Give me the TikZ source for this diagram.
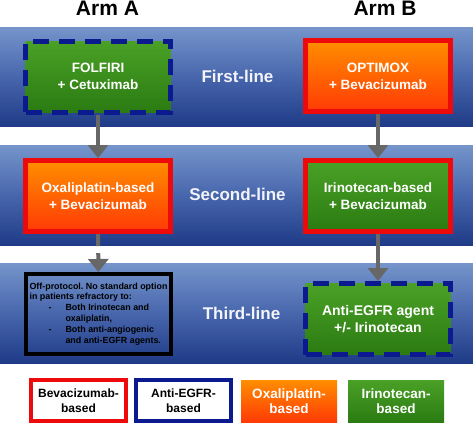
\documentclass[tikz,border=0pt]{standalone}
\usepackage{fontspec}
\setmainfont{Liberation Sans}
\usetikzlibrary{arrows.meta}
\frenchspacing
\definecolor{bandtop}{HTML}{7595CB}
\definecolor{bandmid}{HTML}{4866AC}
\definecolor{bandbot}{HTML}{1F3B88}
\definecolor{bevred}{HTML}{EE0A0A}
\definecolor{egfrblue}{HTML}{0B1A8E}
\definecolor{oxtop}{HTML}{FF8E00}
\definecolor{oxbot}{HTML}{FF3A05}
\definecolor{irtop}{HTML}{4AA126}
\definecolor{irbot}{HTML}{2B7B12}
\definecolor{arrowgray}{HTML}{676767}
\definecolor{labelwhite}{HTML}{F2F4FA}
\tikzset{
  band/.style={top color=bandtop, bottom color=bandbot, middle color=bandmid},
  box/.style={minimum width=145pt, minimum height=71pt, line width=5pt, inner sep=0pt,
    font=\bfseries\fontsize{13.5}{17}\selectfont, text=white, align=center},
  bev/.style={draw=bevred},
  egfr/.style={draw=egfrblue, dash pattern=on 16pt off 10pt},
  oxa/.style={top color=oxtop, bottom color=oxbot},
  iri/.style={top color=irtop, bottom color=irbot},
  linelabel/.style={font=\bfseries\fontsize{17}{20}\selectfont, text=labelwhite},
  armlabel/.style={font=\bfseries\fontsize{21}{24}\selectfont, text=black},
  flow/.style={line width=4pt, draw=arrowgray, -{Triangle[width=20pt,length=13pt]}},
  legend/.style={line width=4pt, inner sep=0pt, align=center,
    font=\bfseries\fontsize{12}{14.5}\selectfont},
  legendcol/.style={legend, text=white, minimum width=96pt, minimum height=42pt,
    font=\bfseries\fontsize{13.5}{15.5}\selectfont},
}
\begin{document}
\begin{tikzpicture}[x=1pt,y=-1pt]
\useasboundingbox (0,0) rectangle (473,426);
% bands
\path[band] (0,27) rectangle (473,126);
\path[band] (0,145) rectangle (473,245);
\path[band] (0,263) rectangle (473,363);
% titles
\node[armlabel] (armA) at (107.5,8.5) {Arm A};
\node[armlabel] (armB) at (385,8.5) {Arm B};
% line labels
\node[linelabel] (first) at (237.5,76) {First-line};
\node[linelabel] (second) at (237.5,194) {Second-line};
\node[linelabel] (third) at (241.5,313) {Third-line};
% boxes
\node[box, egfr, iri] (A1) at (98,76.5) {FOLFIRI\\+ Cetuximab};
\node[box, bev, oxa] (B1) at (378,76) {OPTIMOX\\+ Bevacizumab};
\node[box, bev, oxa] (A2) at (98,196) {Oxaliplatin-based\\+ Bevacizumab};
\node[box, bev, iri] (B2) at (378,196) {Irinotecan-based\\+ Bevacizumab};
\node[draw=black, line width=4pt, minimum width=145pt, minimum height=80pt, inner sep=0pt,
      align=left, text=black,
      font=\bfseries\fontsize{8.9}{10.9}\selectfont] (A3) at (98.5,314)
  {Off-protocol. No standard option\\
   in patients refractory to:\\
   \makebox[36pt][l]{\hspace*{19pt}-}Both Irinotecan and\\
   \hspace*{36pt}oxaliplatin,\\
   \makebox[36pt][l]{\hspace*{19pt}-}Both anti-angiogenic\\
   \hspace*{36pt}and anti-EGFR agents.};
\node[box, egfr, iri, font=\bfseries\fontsize{14}{17}\selectfont] (B3) at (378,319) {Anti-EGFR agent\\+/- Irinotecan};
% connectors
\draw[flow] (A1) -- (A2);
\draw[flow] (B1) -- (B2);
\draw[flow, dash pattern=on 12pt off 7pt] (A2) -- (A3);
\draw[flow] (B2) -- (B3);
% legend
\node[legend, draw=bevred, fill=white, minimum width=95pt, minimum height=41pt] (L1) at (78.5,400.5) {Bevacizumab-\\based};
\node[legend, draw=egfrblue, fill=white, minimum width=95pt, minimum height=41pt] (L2) at (183.5,400.5) {Anti-EGFR-\\based};
\node[legendcol, oxa] (L3) at (289,401) {Oxaliplatin-\\based};
\node[legendcol, iri] (L4) at (396,401) {Irinotecan-\\based};
\end{tikzpicture}
\end{document}
